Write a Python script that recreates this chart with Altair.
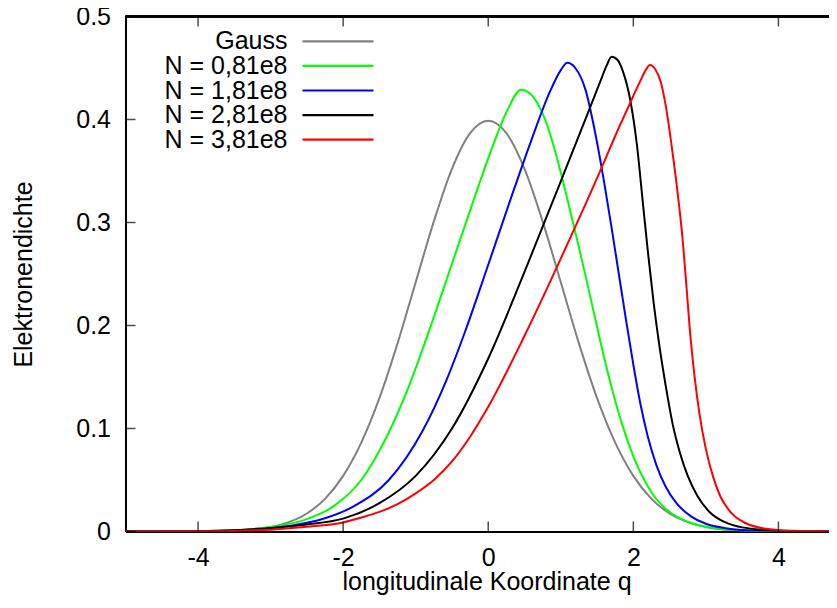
import altair as alt
import pandas as pd

# ---------------- data ----------------
series_names = ["Gauss", "N = 0,81e8", "N = 1,81e8", "N = 2,81e8", "N = 3,81e8"]
series_colors = ["#808080", "#00ff00", "#0000ff", "#000000", "#ff0000"]

gauss_x = [-5, -4.5, -4, -3.5, -3, -2.75, -2.5, -2.25, -2, -1.75, -1.5, -1.25, -1, -0.75, -0.5, -0.25,
           0, 0.25, 0.5, 0.75, 1, 1.25, 1.5, 1.75, 2, 2.25, 2.5, 2.75, 3, 3.5, 4, 4.5, 5]
gauss_y = [0.0, 0.0000, 0.0001, 0.0009, 0.0044, 0.0091, 0.0175, 0.0317, 0.0540, 0.0863, 0.1295, 0.1826,
           0.2420, 0.3011, 0.3521, 0.3867, 0.3989, 0.3867, 0.3521, 0.3011, 0.2420, 0.1826, 0.1295,
           0.0863, 0.0540, 0.0317, 0.0175, 0.0091, 0.0044, 0.0009, 0.0001, 0.0000, 0.0]

n081_x = [-5, -4, -3.5, -3, -2.5, -2.13, -1.75, -1.4, -1.1, -0.8, -0.5, -0.2, 0.05, 0.25, 0.455,
          0.58, 0.70, 0.82, 0.95, 1.10, 1.25, 1.40, 1.55, 1.70, 1.85, 2.0, 2.15, 2.3, 2.5, 2.75, 3.1,
          3.5, 4, 5]
n081_y = [0.0, 0.0003, 0.0012, 0.0045, 0.012, 0.0246, 0.050, 0.092, 0.140, 0.198, 0.260, 0.322, 0.372,
          0.407, 0.429, 0.425, 0.413, 0.393, 0.362, 0.320, 0.276, 0.230, 0.183, 0.140, 0.103, 0.073,
          0.050, 0.033, 0.019, 0.0095, 0.0035, 0.001, 0.0002, 0.0]

n181_x = [-5, -4, -3.5, -3, -2.5, -2.31, -1.85, -1.37, -0.91, -0.57, -0.33, 0.0, 0.3, 0.6, 0.85, 1.0,
          1.09, 1.2, 1.34, 1.48, 1.60, 1.70, 1.80, 1.90, 2.00, 2.10, 2.20, 2.32, 2.45, 2.6, 2.8, 3.0,
          3.25, 3.7, 4.2, 5]
n181_y = [0.0, 0.0002, 0.0008, 0.0028, 0.0085, 0.0117, 0.0246, 0.050, 0.097, 0.148, 0.192, 0.259,
          0.321, 0.381, 0.427, 0.448, 0.455, 0.450, 0.429, 0.385, 0.338, 0.295, 0.250, 0.205, 0.162,
          0.123, 0.092, 0.064, 0.043, 0.027, 0.0145, 0.0075, 0.0035, 0.0008, 0.0002, 0.0]

n281_x = [-5, -4, -3.5, -3, -2.5, -2.0, -1.5, -1.0, -0.5, 0.0, 0.5, 1.0, 1.4, 1.55, 1.63, 1.70, 1.78,
          1.86, 1.96, 2.05, 2.13, 2.20, 2.28, 2.36, 2.45, 2.54, 2.64, 2.75, 2.88, 3.05, 3.25, 3.5, 4.0, 5]
n281_y = [0.0, 0.0003, 0.0012, 0.0035, 0.0068, 0.0125, 0.0275, 0.054, 0.100, 0.168, 0.252, 0.340,
          0.411, 0.438, 0.452, 0.461, 0.458, 0.446, 0.418, 0.375, 0.320, 0.272, 0.222, 0.180, 0.140,
          0.105, 0.077, 0.054, 0.035, 0.019, 0.0095, 0.004, 0.0008, 0.0]

n381_x = [-5, -4, -3.5, -3, -2.5, -2.0, -1.75, -1.5, -1.25, -1.0, -0.75, -0.5, -0.25, 0.0, 0.5, 1.0,
          1.5, 1.8, 2.0, 2.1, 2.17, 2.23, 2.30, 2.38, 2.45, 2.54, 2.62, 2.68, 2.73, 2.78, 2.84, 2.91,
          3.0, 3.1, 3.2, 3.35, 3.55, 3.8, 4.2, 5]
n381_y = [0.0, 0.0002, 0.0006, 0.0018, 0.0045, 0.0088, 0.0135, 0.019, 0.0265, 0.037, 0.050, 0.068,
          0.092, 0.121, 0.190, 0.265, 0.343, 0.392, 0.423, 0.438, 0.448, 0.453, 0.449, 0.436, 0.412,
          0.368, 0.323, 0.283, 0.240, 0.195, 0.153, 0.115, 0.080, 0.053, 0.034, 0.018, 0.008, 0.003,
          0.0007, 0.0]

x_ticks = [-4, -2, 0, 2, 4]
y_ticks = [0, 0.1, 0.2, 0.3, 0.4, 0.5]
x_domain = [-5, 4.697]
y_domain = [0, 0.5]
x_title = "longitudinale Koordinate q"
y_title = "Elektronendichte"

# ---------------- tables ----------------
xs = [gauss_x, n081_x, n181_x, n281_x, n381_x]
ys = [gauss_y, n081_y, n181_y, n281_y, n381_y]
rows = []
for name, sx, sy in zip(series_names, xs, ys):
    for a, b in zip(sx, sy):
        rows.append({"series": name, "x": a, "y": b})
curves_df = pd.DataFrame(rows)
xt_df = pd.DataFrame({"x": x_ticks, "ybot": [y_domain[0]] * len(x_ticks),
                      "ytop": [y_domain[1]] * len(x_ticks)})
yt_df = pd.DataFrame({"y": y_ticks, "x": [x_domain[0]] * len(y_ticks)})
legend_df = pd.DataFrame({"series": series_names, "idx": list(range(len(series_names)))})

FONT = "Liberation Sans"
FS = 25
W, H = 703.5, 515

xscale = alt.Scale(domain=x_domain, nice=False, zero=False)
yscale = alt.Scale(domain=y_domain, nice=False, zero=False)
cscale = alt.Scale(domain=series_names, range=series_colors)

x_axis = alt.Axis(
    values=x_ticks, labelExpr="toString(datum.value)", ticks=False, grid=False,
    domainColor="black", domainWidth=2, labelFontSize=FS, labelFont=FONT, labelColor="black",
    labelBaseline="middle", labelPadding=26, title=x_title, titleFontSize=FS, titleFont=FONT,
    titleFontWeight="normal", titleColor="black", titleX=361, titleY=50, titleAlign="center",
    titleBaseline="middle", labelFlush=False, labelOverlap=False, zindex=0)
y_axis = alt.Axis(
    values=y_ticks, labelExpr="datum.value == 0 ? '0' : format(datum.value, '.1f')", ticks=False,
    grid=False, domainColor="black", domainWidth=2, labelFontSize=FS, labelFont=FONT,
    labelColor="black", labelPadding=15, title=y_title, titleFontSize=FS, titleFont=FONT,
    titleFontWeight="normal", titleColor="black", titleX=-102, titleY=H / 2, titleAngle=270,
    titleAlign="center", titleBaseline="middle", labelFlush=False, labelOverlap=False, zindex=0)

X = lambda f: alt.X(f, scale=xscale, axis=x_axis, title=x_title)
Y = lambda f: alt.Y(f, scale=yscale, axis=y_axis, title=y_title)

curves = alt.Chart(curves_df).mark_line(strokeWidth=2, interpolate="monotone", clip=True).encode(
    x=X("x:Q"), y=Y("y:Q"),
    color=alt.Color("series:N", scale=cscale, legend=None),
    detail="series:N",
)

tick_style = dict(color="black", size=10, thickness=1.5)
bottom_ticks = alt.Chart(xt_df).mark_tick(orient="vertical", yOffset=-5, **tick_style).encode(
    x=X("x:Q"), y=Y("ybot:Q"))
top_ticks = alt.Chart(xt_df).mark_tick(orient="vertical", yOffset=5, **tick_style).encode(
    x=X("x:Q"), y=Y("ytop:Q"))
left_ticks = alt.Chart(yt_df).mark_tick(orient="horizontal", xOffset=5, **tick_style).encode(
    x=X("x:Q"), y=Y("y:Q"))
top_border = alt.Chart(xt_df).mark_rule(color="black", strokeWidth=2).encode(y=Y("ytop:Q"))

main = alt.layer(curves, bottom_ticks, top_ticks, left_ticks, top_border)

legend_y = alt.Y("idx:Q", scale=alt.Scale(domain=[0, 4], range=[24.8, 123.2]), axis=None)
legend_text = alt.Chart(legend_df).mark_text(
    align="right", baseline="middle", fontSize=FS, font=FONT, color="black").encode(
    x=alt.value(162), y=legend_y, text="series:N")
legend_lines = alt.Chart(legend_df).mark_rule(strokeWidth=2.2).encode(
    x=alt.value(177), x2=alt.value(248), y=legend_y,
    color=alt.Color("series:N", scale=cscale, legend=None))

chart = alt.layer(main, legend_text, legend_lines).resolve_scale(y="independent").properties(
    width=W, height=H,
    autosize=alt.AutoSizeParams(type="none"),
    padding={"left": 117.5, "top": 8.5, "right": 0, "bottom": 68},
    background="white",
).configure_view(strokeWidth=0).configure(font=FONT)

chart.save("out.html", embed_options={"renderer": "svg", "actions": False})
